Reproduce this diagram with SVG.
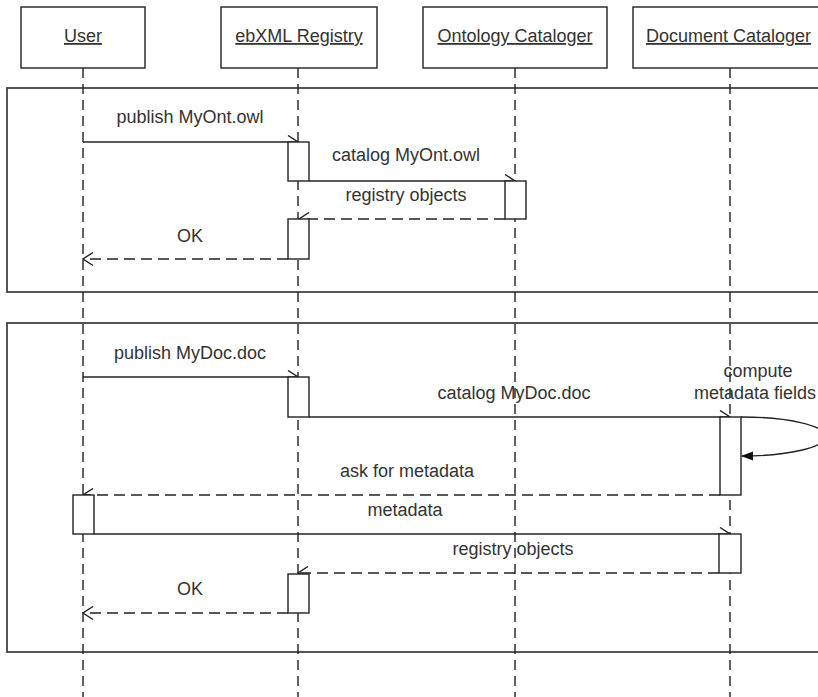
<svg xmlns="http://www.w3.org/2000/svg" width="818" height="697" viewBox="0 0 818 697">
<style>
  .bg { fill: #ffffff; }
  .frame { fill: none; stroke: #444; stroke-width: 1.8; }
  .head { fill: #ffffff; stroke: #222; stroke-width: 1.4; }
  .life { stroke: #222; stroke-width: 1.4; stroke-dasharray: 10 6; fill: none; }
  .act { fill: #ffffff; stroke: #222; stroke-width: 1.4; }
  .msg { stroke: #222; stroke-width: 1.4; fill: none; marker-end: url(#open); }
  .ret { stroke: #222; stroke-width: 1.4; fill: none; stroke-dasharray: 11 6; marker-end: url(#open); }
  .self { stroke: #222; stroke-width: 1.4; fill: none; marker-end: url(#filled); }
  text { font-family: "Liberation Sans", Arial, sans-serif; font-size: 18px; fill: #333; text-anchor: middle; }
  .hd { text-decoration: underline; }
</style>
<defs>
  <marker id="open" viewBox="0 0 12 15" refX="11" refY="7.5" markerWidth="12" markerHeight="15" markerUnits="userSpaceOnUse" orient="auto">
    <path d="M1,1 L11,7.5 L1,14" fill="none" stroke="#222" stroke-width="1.4"/>
  </marker>
  <marker id="filled" viewBox="0 0 12 10" refX="11" refY="5" markerWidth="12" markerHeight="10" markerUnits="userSpaceOnUse" orient="auto">
    <path d="M0,0.5 L12,5 L0,9.5 Z" fill="#111"/>
  </marker>
</defs>
<rect class="bg" x="0" y="0" width="818" height="697"/>

<g id="frames">
  <rect class="frame" x="7" y="88" width="830" height="204"/>
  <rect class="frame" x="7" y="323" width="830" height="329"/>
</g>

<g id="user">
  <line class="life" x1="83" y1="68" x2="83" y2="697"/>
  <rect class="head" x="21" y="7" width="124" height="61"/>
  <text class="hd" x="83" y="42">User</text>
</g>
<g id="registry">
  <line class="life" x1="298" y1="68" x2="298" y2="697"/>
  <rect class="head" x="221" y="7" width="156" height="61"/>
  <text class="hd" x="299" y="42">ebXML Registry</text>
</g>
<g id="ontology">
  <line class="life" x1="515" y1="68" x2="515" y2="697"/>
  <rect class="head" x="423" y="7" width="184" height="61"/>
  <text class="hd" x="515" y="42">Ontology Cataloger</text>
</g>
<g id="document">
  <line class="life" x1="730" y1="68" x2="730" y2="697"/>
  <rect class="head" x="633" y="7" width="200" height="61"/>
  <text class="hd" x="730" y="42" style="text-anchor:start" dx="-84">Document Cataloger</text>
</g>

<g id="connectors">
  <line class="msg" x1="83" y1="142" x2="298" y2="142"/>
  <text x="190" y="123">publish MyOnt.owl</text>
  <line class="msg" x1="309" y1="181" x2="515" y2="181"/>
  <text x="406" y="161">catalog MyOnt.owl</text>
  <line class="ret" x1="505" y1="219" x2="299" y2="219"/>
  <text x="406" y="201">registry objects</text>
  <line class="ret" x1="288" y1="259" x2="83" y2="259"/>
  <text x="190" y="242">OK</text>

  <line class="msg" x1="83" y1="377" x2="298" y2="377"/>
  <text x="190" y="359">publish MyDoc.doc</text>
  <line class="msg" x1="309" y1="417" x2="730" y2="417"/>
  <text x="514" y="399">catalog MyDoc.doc</text>
  <path class="self" d="M741,417 A84,19.5 0 0 1 742,456"/>
  <text x="758" y="377">compute</text>
  <text x="816" y="399" style="text-anchor:end">metadata fields</text>
  <line class="ret" x1="720" y1="495" x2="83" y2="495"/>
  <text x="407" y="477">ask for metadata</text>
  <line class="msg" x1="94" y1="534" x2="730" y2="534"/>
  <text x="405" y="516">metadata</text>
  <line class="ret" x1="719" y1="573" x2="298" y2="573"/>
  <text x="513" y="555">registry objects</text>
  <line class="ret" x1="288" y1="613" x2="83" y2="613"/>
  <text x="190" y="595">OK</text>
</g>

<g id="activations">
  <rect id="act-reg-1" class="act" x="288" y="142" width="21" height="39"/>
  <rect id="act-ont-1" class="act" x="505" y="181" width="21" height="38"/>
  <rect id="act-reg-2" class="act" x="288" y="219" width="21" height="40"/>
  <rect id="act-reg-3" class="act" x="288" y="377" width="21" height="40"/>
  <rect id="act-doc-1" class="act" x="720" y="417" width="21" height="78"/>
  <rect id="act-user-1" class="act" x="73" y="495" width="21" height="39"/>
  <rect id="act-doc-2" class="act" x="719" y="534" width="22" height="39"/>
  <rect id="act-reg-4" class="act" x="288" y="574" width="21" height="39"/>
</g>
</svg>
